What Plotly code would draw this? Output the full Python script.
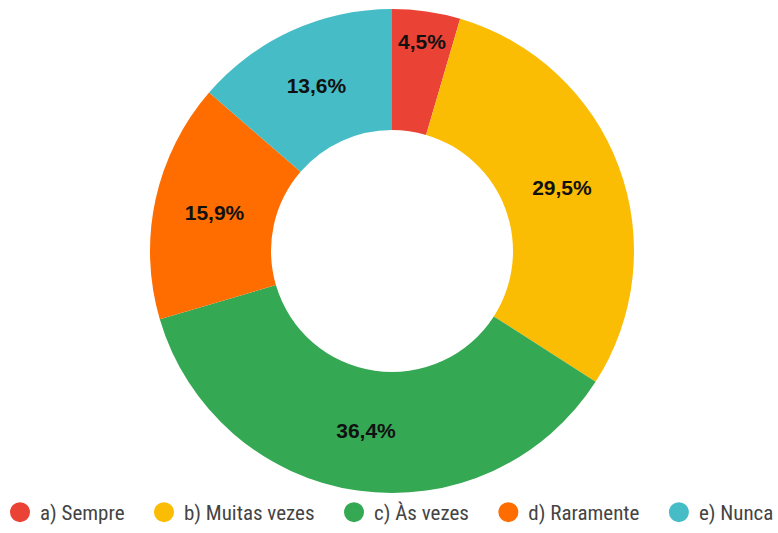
import plotly.graph_objects as go

labels = ["a) Sempre", "b) Muitas vezes", "c) Às vezes", "d) Raramente", "e) Nunca"]
counts = [2, 13, 16, 7, 6]
colors = ["#EA4335", "#FBBC04", "#34A853", "#FF6D01", "#46BDC6"]

W, H = 778, 533
cx, cy, R = 392, 251, 242

fig = go.Figure()
fig.add_trace(go.Pie(
    labels=labels, values=counts, hole=0.5, sort=False, direction="clockwise",
    rotation=0, marker=dict(colors=colors, line=dict(color="white", width=0)),
    textinfo="percent", texttemplate="%{percent:.1%}", textposition="inside",
    insidetextorientation="horizontal",
    textfont=dict(family="Liberation Sans, Arial", size=21, color="#111111", weight="bold"),
    showlegend=False, hoverinfo="label+percent",
    domain=dict(x=[(cx - R) / W, (cx + R) / W], y=[(H - cy - R) / H, (H - cy + R) / H]),
))
pad = "\u00a0\u00a0\u00a0"
for i, (lab, col) in enumerate(zip(labels, colors)):
    name = lab + (pad if i < len(labels) - 1 else "")
    fig.add_trace(go.Scatter(x=[None], y=[None], mode="markers", name=name,
                             marker=dict(color=col, size=16, symbol="circle",
                                         line=dict(color=col, width=4))))

fig.update_layout(
    width=W, height=H, margin=dict(l=0, r=0, t=0, b=0),
    paper_bgcolor="white", plot_bgcolor="white",
    separators=",.",
    xaxis=dict(visible=False), yaxis=dict(visible=False),
    legend=dict(orientation="h", x=0.0, xanchor="left", y=0, yanchor="bottom",
                font=dict(family="Roboto Condensed, Liberation Sans Narrow, Roboto", size=21, color="#444444"),
                bgcolor="rgba(0,0,0,0)"),
)
fig.write_html("out.html")
